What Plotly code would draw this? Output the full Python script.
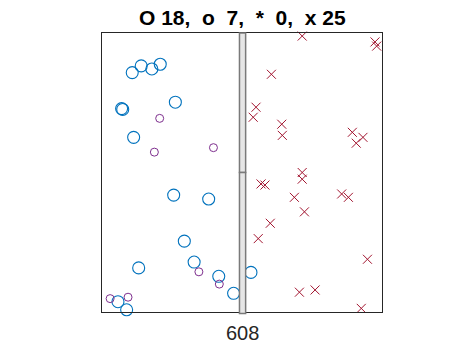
import plotly.graph_objects as go

# Large open circles ("O", 18)
big_x = [10.8, 14.0, 17.8, 20.8, 7.0, 7.4, 26.2, 11.3, 25.6, 38.1, 29.4, 32.9, 13.1, 41.7, 47.0, 5.7, 8.8, 53.2]
big_y = [85.8, 88.2, 87.1, 88.8, 72.9, 72.6, 75.2, 62.6, 41.9, 40.5, 25.4, 17.9, 15.8, 12.8, 6.7, 3.7, 0.8, 14.2]

# Small open circles ("o", 7)
small_x = [20.6, 18.7, 39.8, 34.6, 41.9, 2.9, 9.3]
small_y = [69.4, 57.3, 58.9, 14.4, 10.0, 4.8, 5.3]

# Crosses ("x", 25)
cross_x = [71.5, 97.5, 98.1, 60.5, 55.0, 54.0, 64.2, 64.4, 89.4, 93.2, 90.8, 71.5, 71.5,
           56.8, 58.2, 68.7, 72.3, 85.6, 88.0, 60.1, 55.8, 94.8, 70.5, 76.1, 92.6]
cross_y = [98.9, 96.8, 95.3, 85.2, 73.4, 69.8, 67.3, 63.3, 64.4, 62.6, 60.5, 50.0, 47.6,
           45.9, 45.5, 41.1, 35.9, 42.3, 41.1, 31.8, 26.3, 18.9, 7.1, 7.9, 1.3]

# Divider bar (centre line of the panel) and its split level
divider_x = [49.1, 51.3]
divider_split = 50.0

title_text = "O 18,\u00a0 o\u00a0 7,\u00a0 *\u00a0 0,\u00a0 x 25"
xlabel_text = "608"

FONT = "Liberation Sans, Arial, sans-serif"

fig = go.Figure()
fig.add_trace(go.Scatter(x=big_x, y=big_y, mode="markers", cliponaxis=False,
                         marker=dict(symbol="circle-open", size=12, color="#0072BD",
                                     line=dict(width=1.1, color="#0072BD"))))
fig.add_trace(go.Scatter(x=small_x, y=small_y, mode="markers", cliponaxis=False,
                         marker=dict(symbol="circle-open", size=8, color="#7E2F8E",
                                     line=dict(width=1, color="#7E2F8E"))))
fig.add_trace(go.Scatter(x=cross_x, y=cross_y, mode="markers", cliponaxis=False,
                         marker=dict(symbol="x-thin-open", size=9, color="#A2142F",
                                     line=dict(width=1, color="#A2142F"))))

fig.add_shape(type="rect", xref="x", yref="paper", x0=divider_x[0], x1=divider_x[1],
              y0=divider_split / 100, y1=1.0, layer="above",
              fillcolor="#e6e6e6", line=dict(color="#7a7a7a", width=1.5))
fig.add_shape(type="rect", xref="x", yref="paper", x0=divider_x[0], x1=divider_x[1],
              y0=-0.005, y1=divider_split / 100, layer="above",
              fillcolor="#e6e6e6", line=dict(color="#7a7a7a", width=1.5))

fig.add_annotation(text="<b>" + title_text + "</b>", xref="paper", yref="paper",
                   x=0.5, y=1.0556, xanchor="center", yanchor="middle", showarrow=False,
                   font=dict(family=FONT, size=21, color="#000000"))
fig.add_annotation(text=xlabel_text, xref="paper", yref="paper",
                   x=0.5, y=-0.077, xanchor="center", yanchor="middle", showarrow=False,
                   font=dict(family=FONT, size=20, color="#262626"))

fig.update_xaxes(range=[0, 100], showgrid=False, zeroline=False, showticklabels=False,
                 ticks="", showline=True, mirror=True, linecolor="#262626", linewidth=1)
fig.update_yaxes(range=[0, 100], showgrid=False, zeroline=False, showticklabels=False,
                 ticks="", showline=True, mirror=True, linecolor="#262626", linewidth=1)

fig.update_layout(width=469, height=352, margin=dict(l=102, r=87, t=33, b=40),
                  paper_bgcolor="white", plot_bgcolor="white", showlegend=False,
                  font=dict(family=FONT))

fig.write_html("out.html")
